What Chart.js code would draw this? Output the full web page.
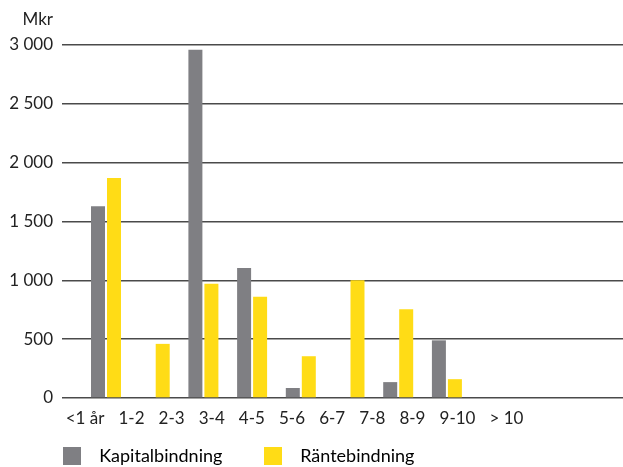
<!DOCTYPE html>
<html lang="sv">
<head>
    <meta charset="utf-8">
    <title>Kapitalbindning och räntebindning</title>
    <script src="https://cdn.jsdelivr.net/npm/chart.js@4/dist/chart.umd.min.js"></script>
    <style>
        html, body { margin: 0; padding: 0; background: #fff; }
    </style>
    <script type="text/javascript">
        // categories (years) and values in Mkr
        const categories = ['<1 år', '1-2', '2-3', '3-4', '4-5', '5-6', '6-7', '7-8', '8-9', '9-10', '> 10'];
        const kapitalbindning = [1630, 0, 2960, 1105, 85, 0, 135, 490, 0, 0, 0];
        const rantebindning = [1870, 460, 970, 860, 355, 1000, 755, 160, 0, 0, 0];
        const yTicks = [0, 500, 1000, 1500, 2000, 2500, 3000];

        const FONT = 'Lato';
        const TEXT = '#222222';

        function thousands(v) {
            return String(v).replace(/\B(?=(\d{3})+(?!\d))/g, ' ');
        }

        // label row in the original is one line of text with a fixed gap between words,
        // so the label centres are spread from the first to the last one by text width
        function placeLabels(scale) {
            const ctx = scale.ctx;
            ctx.save();
            ctx.font = '17px ' + FONT;
            const w = categories.map(c => ctx.measureText(c).width);
            ctx.restore();
            const first = 23, last = 444.5;
            let inner = 0;
            for (let i = 0; i < w.length - 1; i++) inner += (w[i] + w[i + 1]) / 2;
            const gap = (last - first - inner) / (w.length - 1);
            const ticks = [];
            let pos = first;
            for (let i = 0; i < w.length; i++) {
                if (i > 0) pos += (w[i - 1] + w[i]) / 2 + gap;
                ticks.push({value: pos});
            }
            scale.ticks = ticks;
        }

        const unitLabel = {
            id: 'unitLabel',
            afterLayout(chart) {
                // legend row starts under the plot, not at the canvas edge
                chart.legend.left = 53;
            },
            afterDraw(chart) {
                const ctx = chart.ctx;
                ctx.save();
                ctx.font = '17px ' + FONT;
                ctx.fillStyle = TEXT;
                ctx.textAlign = 'right';
                ctx.textBaseline = 'middle';
                ctx.fillText('Mkr', chart.scales.y.right - 9, 20);
                ctx.restore();
            }
        };

        function onInit() {
            const ctx = document.getElementById('chart').getContext('2d');
            new Chart(ctx, {
                type: 'bar',
                data: {
                    datasets: [{
                        label: 'Kapitalbindning',
                        data: kapitalbindning.map((v, i) => ({x: i, y: v})),
                        backgroundColor: '#7f7f83',
                        categoryPercentage: 0.657,
                        barPercentage: 0.875
                    }, {
                        label: 'Räntebindning',
                        data: rantebindning.map((v, i) => ({x: i, y: v})),
                        backgroundColor: '#ffdc16',
                        categoryPercentage: 0.657,
                        barPercentage: 0.875
                    }]
                },
                options: {
                    responsive: false,
                    animation: false,
                    layout: {padding: {top: 45, right: 0, bottom: -8, left: 0}},
                    scales: {
                        x: {
                            type: 'linear',
                            display: false,
                            offset: false,
                            min: -0.9035,
                            max: 10.616,
                            ticks: {display: false}
                        },
                        xl: {
                            type: 'linear',
                            position: 'bottom',
                            offset: false,
                            min: 0,
                            max: 561,
                            grid: {display: false, drawTicks: false},
                            border: {display: false},
                            afterBuildTicks: placeLabels,
                            afterFit: (scale) => { scale.height = 39; },
                            ticks: {
                                autoSkip: false,
                                maxRotation: 0,
                                padding: 10,
                                color: TEXT,
                                font: {family: FONT, size: 17},
                                callback: (v, i) => categories[i]
                            }
                        },
                        y: {
                            min: 0,
                            max: 3000,
                            afterBuildTicks: (scale) => { scale.ticks = yTicks.map(v => ({value: v})); },
                            afterFit: (scale) => { scale.width = 62; },
                            grid: {color: '#4a4a4a', lineWidth: 1.4, drawTicks: false},
                            border: {display: false},
                            ticks: {
                                padding: 9,
                                color: TEXT,
                                font: {family: FONT, size: 17},
                                callback: (v) => thousands(v)
                            }
                        }
                    },
                    plugins: {
                        legend: {
                            position: 'bottom',
                            align: 'start',
                            labels: {
                                boxWidth: 18,
                                boxHeight: 18,
                                padding: 10,
                                color: TEXT,
                                font: {family: FONT, size: 18},
                                generateLabels: (chart) => chart.data.datasets.map((ds, i) => ({
                                    text: '  ' + ds.label + '\u2003\u2003 ',
                                    fillStyle: ds.backgroundColor,
                                    strokeStyle: ds.backgroundColor,
                                    lineWidth: 0,
                                    datasetIndex: i
                                }))
                            }
                        },
                        tooltip: {enabled: false}
                    }
                },
                plugins: [unitLabel]
            });
        }

        window.onload = onInit;
    </script>
</head>
<body>
    <canvas id="chart" width="623" height="467"></canvas>
</body>
</html>
